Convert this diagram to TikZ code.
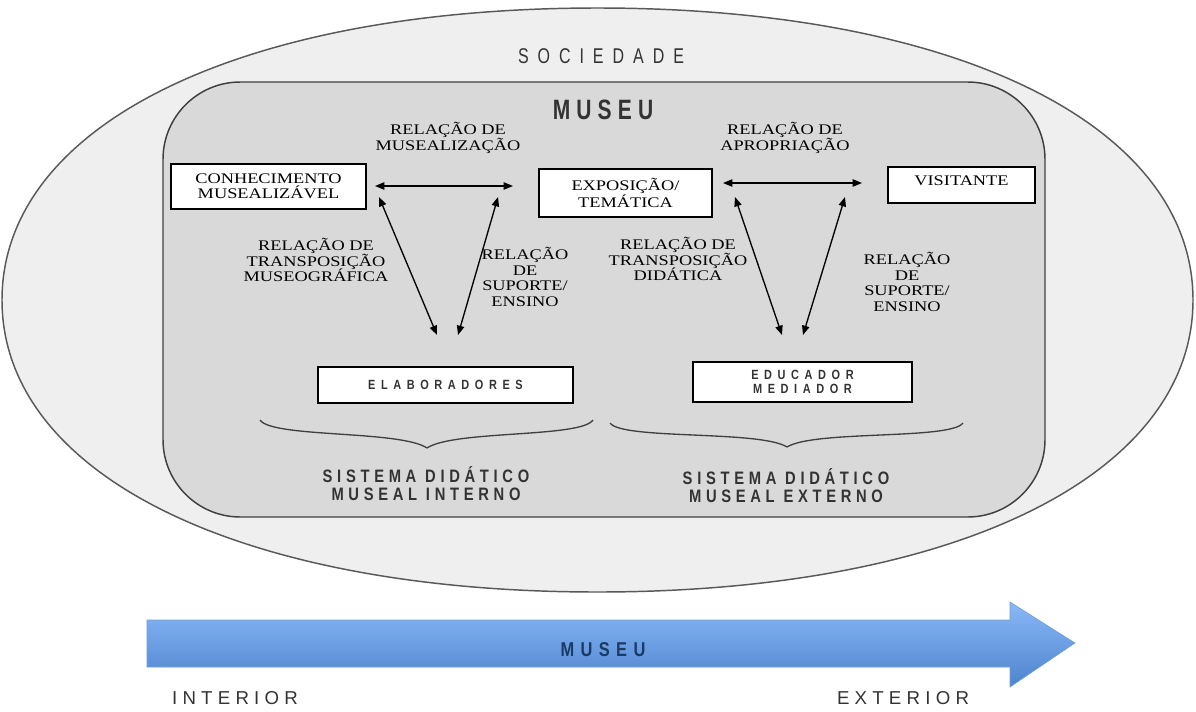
\documentclass[tikz,border=0pt]{standalone}
\usepackage{fontspec}
\setmainfont{Liberation Serif}
\newfontfamily\serifw[FakeStretch=1.25]{Liberation Serif}
\newfontfamily\sansn[FakeStretch=0.75]{Liberation Sans}
\newfontfamily\sansm[FakeStretch=0.82]{Liberation Sans}
\newfontfamily\sansr{Liberation Sans}
\usetikzlibrary{shapes.geometric,arrows.meta}
\definecolor{socfill}{HTML}{EFEFEF}
\definecolor{musfill}{HTML}{D9D9D9}
\definecolor{blueA}{HTML}{8AB8F8}
\definecolor{blueB}{HTML}{4D84CD}
\definecolor{navy}{HTML}{1B3A66}
\tikzset{
  relsty/.style={font=\serifw\fontsize{11}{11.8}\selectfont, align=center, text=black, inner sep=0pt},
  boxsty/.style={draw=black, line width=1.1pt, fill=white, inner sep=0pt, align=center, font=\serifw\fontsize{11}{11.5}\selectfont, text=black},
  sboxsty/.style={draw=black, line width=1.1pt, fill=white, inner sep=0pt, align=center, font=\sansm\bfseries\fontsize{10}{10}\selectfont\addfontfeatures{LetterSpace=42}, text=black!80},
  arr/.style={{Triangle[length=7pt,width=5.5pt]}-{Triangle[length=7pt,width=5.5pt]}, line width=1pt},
  siststy/.style={font=\sansm\bfseries\fontsize{13.5}{13.5}\selectfont\addfontfeatures{LetterSpace=26}, align=center, text=black!80, inner sep=0pt},
  bracesty/.style={line width=1pt, draw=black!75},
}
\begin{document}
\begin{tikzpicture}[x=0.75pt,y=-0.75pt]
\useasboundingbox (0,0) rectangle (1196,711);
% society (slightly full ellipse)
\draw[draw=black!65, line width=1.1pt, fill=socfill]
  (1193,300) .. controls (1193,124.8) and (954.8,8) .. (597.5,8)
  .. controls (240.2,8) and (2,124.8) .. (2,300)
  .. controls (2,475.2) and (240.2,592) .. (597.5,592)
  .. controls (954.8,592) and (1193,475.2) .. (1193,300) -- cycle;
% museum rounded rectangle
\node[rectangle, rounded corners=58pt, draw=black!75, line width=1.1pt, fill=musfill, minimum width=661.5pt, minimum height=326.25pt, inner sep=0pt] (mus) at (604,299.5) {};
\node[font=\sansn\fontsize{16}{18}\selectfont\addfontfeatures{LetterSpace=42}, text=black!80, inner sep=0pt] (soct) at (601,56) {SOCIEDADE};
\node[font=\sansn\bfseries\fontsize{21}{22}\selectfont\addfontfeatures{LetterSpace=22}, text=black!80, inner sep=0pt] (must) at (603,110) {MUSEU};
% boxes
\node[boxsty, minimum width=146.25pt, minimum height=33.75pt] (conh) at (268.5,186.5) {CONHECIMENTO\\MUSEALIZÁVEL};
\node[boxsty, minimum width=129.75pt, minimum height=36pt] (expo) at (625.5,193) {EXPOSIÇÃO/\\TEMÁTICA};
\node[boxsty, minimum width=110.25pt, minimum height=27pt, text depth=6pt] (visit) at (961.5,185) {VISITANTE};
\node[sboxsty, minimum width=191.25pt, minimum height=27pt] (elab) at (445.5,385) {ELABORADORES};
\node[sboxsty, minimum width=164.25pt, minimum height=30pt] (educ) at (802.5,382) {EDUCADOR\\MEDIADOR};
% relation labels
\node[relsty] (r1) at (448,138) {RELAÇÃO DE\\MUSEALIZAÇÃO};
\node[relsty] (r2) at (785,138) {RELAÇÃO DE\\APROPRIAÇÃO};
\node[relsty] (r3) at (316,260) {RELAÇÃO DE\\TRANSPOSIÇÃO\\MUSEOGRÁFICA};
\node[relsty] (r4) at (525,277) {RELAÇÃO\\DE\\SUPORTE/\\ENSINO};
\node[relsty] (r5) at (678,259) {RELAÇÃO DE\\TRANSPOSIÇÃO\\DIDÁTICA};
\node[relsty] (r6) at (907,282) {RELAÇÃO\\DE\\SUPORTE/\\ENSINO};
% arrow end points
\coordinate (h1a) at (375,186);
\coordinate (h1b) at (513,186);
\coordinate (h2a) at (723,183);
\coordinate (h2b) at (862,183);
\coordinate (d1a) at (379,197);
\coordinate (d1b) at (437,335);
\coordinate (d2a) at (498,197);
\coordinate (d2b) at (458,335);
\coordinate (d3a) at (735,197);
\coordinate (d3b) at (782,335);
\coordinate (d4a) at (845,197);
\coordinate (d4b) at (803,335);
\draw[arr] (h1a) -- (h1b);
\draw[arr] (h2a) -- (h2b);
\draw[arr] (d1a) -- (d1b);
\draw[arr] (d2a) -- (d2b);
\draw[arr] (d3a) -- (d3b);
\draw[arr] (d4a) -- (d4b);
% braces
\draw[bracesty] (260,420) .. controls (272,438) and (400,430) .. (427,448)
                (593,420) .. controls (581,438) and (454,430) .. (427,448);
\draw[bracesty] (610,423) .. controls (622,440) and (760,430) .. (787,447)
                (963,423) .. controls (951,440) and (814,430) .. (787,447);
\node[siststy] (s1) at (426,484) {SISTEMA DIDÁTICO\\MUSEAL INTERNO};
\node[siststy] (s2) at (786,486) {SISTEMA DIDÁTICO\\MUSEAL EXTERNO};
% blue arrow
\shade[top color=blueA, bottom color=blueB, draw=blueB!80, line width=0.4pt]
  (147,620) -- (1010,620) -- (1010,602) -- (1075,643) -- (1010,687) -- (1010,667) -- (147,667) -- cycle;
\node[font=\sansm\bfseries\fontsize{15}{16}\selectfont\addfontfeatures{LetterSpace=32}, text=navy, inner sep=0pt] (mus2) at (603,650) {MUSEU};
\node[font=\sansr\fontsize{14}{15}\selectfont\addfontfeatures{LetterSpace=28}, text=black!80, inner sep=0pt] (inter) at (235,698) {INTERIOR};
\node[font=\sansr\fontsize{14}{15}\selectfont\addfontfeatures{LetterSpace=28}, text=black!80, inner sep=0pt] (exter) at (903,698) {EXTERIOR};
\end{tikzpicture}
\end{document}
